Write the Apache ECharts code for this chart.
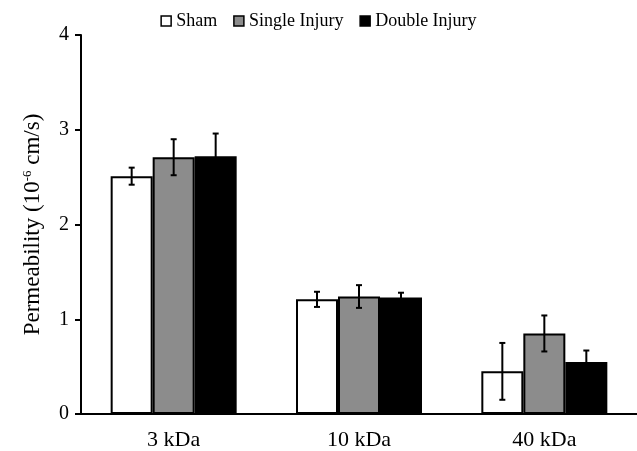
<!DOCTYPE html>
<html>
<head>
<meta charset="utf-8">
<script src="https://cdn.jsdelivr.net/npm/echarts@6/dist/echarts.min.js"></script>
<style>
  html, body { margin: 0; padding: 0; background: #fff; }
  #chart1 { width: 637px; height: 451px; }
</style>
</head>
<body>
<div id="chart1"></div>
<script>
var categories = ['3 kDa', '10 kDa', '40 kDa'];
var seriesNames = ['Sham', 'Single Injury', 'Double Injury'];
var shamValues = [2.51, 1.21, 0.45];
var singleValues = [2.71, 1.24, 0.85];
var doubleValues = [2.72, 1.23, 0.55];
var shamErrors = [0.09, 0.08, 0.3];
var singleErrors = [0.19, 0.12, 0.19];
var doubleErrors = [0.24, 0.05, 0.12];
var yTicks = [0, 1, 2, 3, 4];

var colors = ['#ffffff', '#8c8c8c', '#000000'];
var values = [shamValues, singleValues, doubleValues];
var errors = [shamErrors, singleErrors, doubleErrors];
var barW = 42;

var chart1 = echarts.init(document.getElementById('chart1'));

var series = [];
// bars
for (var i = 0; i < 3; i++) {
    series.push({
        name: seriesNames[i],
        type: 'bar',
        data: values[i],
        barWidth: barW,
        barGap: '0%',
        itemStyle: {
            color: colors[i],
            borderColor: '#000',
            borderWidth: 2
        },
        z: 2
    });
}
// error bars
for (var j = 0; j < 3; j++) {
    (function (k) {
        var d = [];
        for (var c = 0; c < categories.length; c++) {
            d.push([c, values[k][c], errors[k][c]]);
        }
        series.push({
            type: 'custom',
            data: d,
            z: 5,
            renderItem: function (params, api) {
                var p = api.coord([api.value(0), api.value(1)]);
                var hi = api.coord([api.value(0), api.value(1) + api.value(2)]);
                var lo = api.coord([api.value(0), api.value(1) - api.value(2)]);
                var x = p[0] + (k - 1) * barW;
                var cap = 3;
                var st = { stroke: '#000', lineWidth: 2 };
                return {
                    type: 'group',
                    children: [
                        { type: 'line', shape: { x1: x, y1: hi[1], x2: x, y2: lo[1] }, style: st },
                        { type: 'line', shape: { x1: x - cap, y1: hi[1], x2: x + cap, y2: hi[1] }, style: st },
                        { type: 'line', shape: { x1: x - cap, y1: lo[1], x2: x + cap, y2: lo[1] }, style: st }
                    ]
                };
            }
        });
    })(j);
}

var option = {
    animation: false,
    textStyle: { fontFamily: 'Liberation Serif' },
    legend: {
        data: seriesNames.map(function (n, i) {
            return { name: n, itemStyle: { color: colors[i], borderColor: '#000', borderWidth: 1.5 } };
        }),
        top: 7,
        left: 'center',
        icon: 'rect',
        itemWidth: 10,
        itemHeight: 10,
        itemGap: 16,
        textStyle: { fontFamily: 'Liberation Serif', fontSize: 18, color: '#000' }
    },
    grid: { left: 81, width: 564, top: 35, height: 380, containLabel: false },
    xAxis: {
        type: 'category',
        data: categories,
        axisLine: { lineStyle: { color: '#000', width: 2 } },
        axisTick: { show: false },
        axisLabel: { fontFamily: 'Liberation Serif', fontSize: 22, color: '#000', margin: 15 }
    },
    yAxis: {
        type: 'value',
        min: yTicks[0],
        max: yTicks[yTicks.length - 1],
        interval: 1,
        name: '{a|Permeability (10}{s|-6}{a| cm/s)}',
        nameLocation: 'middle',
        nameRotate: 90,
        nameGap: 37,
        nameTextStyle: {
            rich: {
                a: { fontFamily: 'Liberation Serif', fontSize: 23, color: '#000' },
                s: { fontFamily: 'Liberation Serif', fontSize: 13, color: '#000', verticalAlign: 'top', padding: [0, 0, 10, 0] }
            }
        },
        splitLine: { show: false },
        axisLine: { show: true, lineStyle: { color: '#000', width: 2 } },
        axisTick: { show: true, length: 6, lineStyle: { color: '#000', width: 2 } },
        axisLabel: { fontFamily: 'Liberation Serif', fontSize: 20, color: '#000', margin: 12 }
    },
    series: series
};
chart1.setOption(option);
</script>
</body>
</html>
